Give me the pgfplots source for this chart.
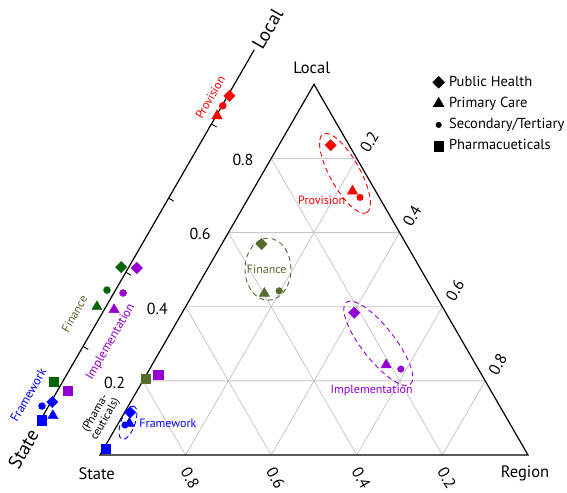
\documentclass[border=0pt]{standalone}
\usepackage{fontspec}
\setmainfont{PT Sans}
\usepackage{pgfplots}
\usepackage{pgfplotstable}
\pgfplotsset{compat=1.18}
\definecolor{cProv}{HTML}{FF0000}
\definecolor{cFin}{HTML}{556B2F}
\definecolor{cFinD}{HTML}{006400}
\definecolor{cImpl}{HTML}{9400D3}
\definecolor{cFrame}{HTML}{0000FF}
\definecolor{cGrid}{HTML}{C8C8C8}
\newcommand\fs[1]{\fontsize{#1}{#1}\selectfont}

% Ternary shares: L = Local, R = Region, S = State
\pgfplotstableread{
grp   L     R     S
prov  0.836 0.121 0.043
fin   0.569 0.093 0.338
impl  0.384 0.402 0.214
frame 0.115 0.013 0.872
}\mainPH
\pgfplotstableread{
grp   L     R     S
prov  0.712 0.234 0.054
fin   0.436 0.166 0.398
impl  0.243 0.547 0.210
frame 0.085 0.026 0.889
}\mainPC
\pgfplotstableread{
grp   L     R     S
prov  0.695 0.260 0.045
fin   0.443 0.197 0.360
impl  0.232 0.587 0.181
frame 0.081 0.018 0.901
}\mainST
\pgfplotstableread{
grp   L     R     S
fin   0.205 0.004 0.791
impl  0.216 0.028 0.756
frame 0.018 0.004 0.978
}\mainPh
% Side (State-Local) axis: v = Local share, off = horizontal offset
\pgfplotstableread{
grp   v      off
prov  0.876  0.004
finD  0.414 -0.018
impl  0.4115 0.020
frame 0.050  0.003
}\sidePH
\pgfplotstableread{
grp   v      off
prov  0.822  0.002
finD  0.307 -0.021
impl  0.299  0.023
frame 0.013  0.023
}\sidePC
\pgfplotstableread{
grp   v      off
prov  0.849  0.002
finD  0.352 -0.020
impl  0.344  0.0215
frame 0.039 -0.0154
}\sideST
\pgfplotstableread{
grp   v      off
finD  0.104 -0.020
impl  0.080  0.025
frame 0.001  0.0035
}\sidePh

\begin{document}
\begin{tikzpicture}
\begin{axis}[
  x=428pt, y=428pt,
  xmin=-0.2336, xmax=1.0911, ymin=-0.0864, ymax=1.0631,
  hide axis, clip=false,
  scatter/classes={
    prov={draw=cProv,fill=cProv},
    fin={draw=cFin,fill=cFin},
    finD={draw=cFinD,fill=cFinD},
    impl={draw=cImpl,fill=cImpl},
    frame={draw=cFrame,fill=cFrame}},
  legend style={at={(axis cs:0.7769,0.8870)}, anchor=north west, draw=none, fill=none,
    inner sep=0pt, row sep=7.8pt, font=\fs{14.5},
    nodes={inner sep=0pt, text height=10.5pt, text depth=3pt}},
  legend cell align=left,
]
\coordinate (BL) at (rel axis cs:0,0);
\coordinate (TR) at (rel axis cs:1,1);

\addlegendimage{only marks, black, mark=square*, mark options={rotate=45}, mark size=4.2pt}
\addlegendentry{\hspace{4.5pt}Public Health}
\addlegendimage{only marks, black, mark=triangle*, mark size=6.3pt}
\addlegendentry{\hspace{4.5pt}Primary Care}
\addlegendimage{only marks, black, mark=*, mark size=2.8pt}
\addlegendentry{\hspace{4.5pt}Secondary/Tertiary}
\addlegendimage{only marks, black, mark=square*, mark size=4.6pt}
\addlegendentry{\hspace{4.5pt}Pharmacueticals}

% grid
\draw[cGrid, line width=0.8pt]
  (axis cs:0.1,0.173205) -- (axis cs:0.9,0.173205)
  (axis cs:0.2,0.34641) -- (axis cs:0.8,0.34641)
  (axis cs:0.3,0.519615) -- (axis cs:0.7,0.519615)
  (axis cs:0.4,0.69282) -- (axis cs:0.6,0.69282)
  (axis cs:0.2,0) -- (axis cs:0.6,0.69282)
  (axis cs:0.4,0) -- (axis cs:0.7,0.519615)
  (axis cs:0.6,0) -- (axis cs:0.8,0.34641)
  (axis cs:0.8,0) -- (axis cs:0.9,0.173205)
  (axis cs:0.8,0) -- (axis cs:0.4,0.69282)
  (axis cs:0.6,0) -- (axis cs:0.3,0.519615)
  (axis cs:0.4,0) -- (axis cs:0.2,0.34641)
  (axis cs:0.2,0) -- (axis cs:0.1,0.173205);
\draw[black, line width=1.2pt] (axis cs:0,0) -- (axis cs:1,0) -- (axis cs:0.5,0.866025) -- cycle;

% side axis
\draw[black, line width=1.2pt] (axis cs:-0.1396,0.0806) -- (axis cs:0.3604,0.9466);
\draw[black, line width=0.9pt]
  (axis cs:-0.0396,0.2538) -- (axis cs:-0.0275,0.2468)
  (axis cs:0.0604,0.4270) -- (axis cs:0.0725,0.4200)
  (axis cs:0.1604,0.6002) -- (axis cs:0.1725,0.5932)
  (axis cs:0.2604,0.7734) -- (axis cs:0.2725,0.7664);

% tick labels
\node[font=\fs{16}] at (axis cs:0.034,0.1692) {0.2};
\node[font=\fs{16}] at (axis cs:0.134,0.3424) {0.4};
\node[font=\fs{16}] at (axis cs:0.234,0.5156) {0.6};
\node[font=\fs{16}] at (axis cs:0.334,0.6888) {0.8};
\node[font=\fs{16}, rotate=-60, inner sep=0pt] at (axis cs:0.2105,-0.0537) {0.8};
\node[font=\fs{16}, rotate=-60, inner sep=0pt] at (axis cs:0.4105,-0.0537) {0.6};
\node[font=\fs{16}, rotate=-60, inner sep=0pt] at (axis cs:0.6105,-0.0537) {0.4};
\node[font=\fs{16}, rotate=-60, inner sep=0pt] at (axis cs:0.8105,-0.0537) {0.2};
\node[font=\fs{16}, rotate=60, inner sep=0pt] at (axis cs:0.6292,0.7314) {0.2};
\node[font=\fs{16}, rotate=60, inner sep=0pt] at (axis cs:0.7292,0.5582) {0.4};
\node[font=\fs{16}, rotate=60, inner sep=0pt] at (axis cs:0.8292,0.3850) {0.6};
\node[font=\fs{16}, rotate=60, inner sep=0pt] at (axis cs:0.9292,0.2118) {0.8};

% vertex labels
\node[font=\fs{16.5}] at (axis cs:0.4946,0.9042) {Local};
\node[font=\fs{16.5}] at (axis cs:-0.0077,-0.0428) {State};
\node[font=\fs{16.5}] at (axis cs:0.993,-0.042) {Region};
\node[font=\fs{19}, rotate=60, inner sep=0pt] at (axis cs:0.3914,0.9953) {Local};
\node[font=\fs{19}, rotate=60, inner sep=0pt] at (axis cs:-0.1792,0.014) {State};

% ellipses
\draw[cProv, line width=0.9pt, dash pattern=on 5pt off 3.5pt, rotate around={-61:(axis cs:0.5724,0.6582)}]
  (axis cs:0.5724,0.6582) ellipse [x radius=45pt, y radius=15pt];
\draw[cFin, line width=0.9pt, dash pattern=on 5pt off 3.5pt]
  (axis cs:0.3925,0.4341) ellipse [x radius=23pt, y radius=31pt];
\draw[cImpl, line width=0.9pt, dash pattern=on 5pt off 3.5pt, rotate around={-52:(axis cs:0.6502,0.2610)}]
  (axis cs:0.6502,0.2610) ellipse [x radius=52pt, y radius=16.5pt];
\draw[cFrame, line width=0.9pt, dash pattern=on 5pt off 3.5pt, rotate around={70:(axis cs:0.0654,0.0755)}]
  (axis cs:0.0654,0.0755) ellipse [x radius=17.6pt, y radius=7pt];

% group labels (triangle)
\node[font=\fs{12}, text=cProv, inner sep=0pt] at (axis cs:0.518,0.5958) {Provision};
\node[font=\fs{12}, text=cFin, inner sep=0pt] at (axis cs:0.3895,0.4339) {Finance};
\node[font=\fs{12}, text=cImpl, inner sep=0pt] at (axis cs:0.6348,0.1507) {Implementation};
\node[font=\fs{12}, text=cFrame, anchor=west, inner sep=0pt] at (axis cs:0.0918,0.0748) {Framework};
\node[font=\fs{11.5}, rotate=60, align=center, inner sep=0pt] at (axis cs:0.0012,0.09) {(Phama-\\ceuticals)};
% group labels (side axis)
\node[font=\fs{12}, text=cProv, rotate=60, inner sep=0pt] at (axis cs:0.2577,0.8353) {Provision};
\node[font=\fs{12}, text=cFin, rotate=60, inner sep=0pt] at (axis cs:-0.0596,0.3301) {Finance};
\node[font=\fs{12.5}, text=cImpl, rotate=60, inner sep=0pt] at (axis cs:0.0252,0.2648) {Implementation};
\node[font=\fs{12.5}, text=cFrame, rotate=60, inner sep=0pt] at (axis cs:-0.1675,0.1402) {Framework};

% main ternary points
\addplot[scatter, only marks, scatter src=explicit symbolic, mark=square*, mark options={rotate=45}, mark size=4pt, forget plot]
  table[x expr=\thisrow{R}+0.5*\thisrow{L}, y expr=0.8660254*\thisrow{L}, meta=grp]{\mainPH};
\addplot[scatter, only marks, scatter src=explicit symbolic, mark=triangle*, mark size=6pt, forget plot]
  table[x expr=\thisrow{R}+0.5*\thisrow{L}, y expr=0.8660254*\thisrow{L}, meta=grp]{\mainPC};
\addplot[scatter, only marks, scatter src=explicit symbolic, mark=*, mark size=3.3pt, forget plot]
  table[x expr=\thisrow{R}+0.5*\thisrow{L}, y expr=0.8660254*\thisrow{L}, meta=grp]{\mainST};
\addplot[scatter, only marks, scatter src=explicit symbolic, mark=square*, mark size=4.6pt, forget plot]
  table[x expr=\thisrow{R}+0.5*\thisrow{L}, y expr=0.8660254*\thisrow{L}, meta=grp]{\mainPh};

% side axis points
\addplot[scatter, only marks, scatter src=explicit symbolic, mark=square*, mark options={rotate=45}, mark size=4pt, forget plot]
  table[x expr=0.5*\thisrow{v}-0.1396+\thisrow{off}, y expr=0.8660254*\thisrow{v}+0.0806, meta=grp]{\sidePH};
\addplot[scatter, only marks, scatter src=explicit symbolic, mark=triangle*, mark size=6pt, forget plot]
  table[x expr=0.5*\thisrow{v}-0.1396+\thisrow{off}, y expr=0.8660254*\thisrow{v}+0.0806, meta=grp]{\sidePC};
\addplot[scatter, only marks, scatter src=explicit symbolic, mark=*, mark size=3.5pt, forget plot]
  table[x expr=0.5*\thisrow{v}-0.1396+\thisrow{off}, y expr=0.8660254*\thisrow{v}+0.0806, meta=grp]{\sideST};
\addplot[scatter, only marks, scatter src=explicit symbolic, mark=square*, mark size=4.6pt, forget plot]
  table[x expr=0.5*\thisrow{v}-0.1396+\thisrow{off}, y expr=0.8660254*\thisrow{v}+0.0806, meta=grp]{\sidePh};
\end{axis}
\pgfresetboundingbox
\path[use as bounding box] (BL) rectangle (TR);
\end{tikzpicture}
\end{document}
